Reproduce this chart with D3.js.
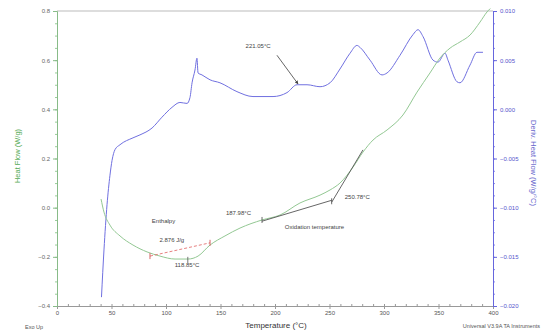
<!DOCTYPE html>
<html>
<head>
<meta charset="utf-8">
<script src="https://cdn.jsdelivr.net/npm/d3@7"></script>
<style>
  body { margin: 0; background: #fff; }
  svg { font-family: "Liberation Sans", Arial, sans-serif; }
</style>
</head>
<body>
<div id="chart"></div>
<script>
// Heat flow curve (left axis)
var flowTemp = [40.4, 43.1, 48.6, 57.8, 69.7, 82.6, 94.5, 108.3, 120.2, 129.4, 140.4, 154.1, 167.9, 188.1, 204.6, 222.9, 241.3, 250.5, 259.6, 271.6, 280.7, 289.9, 302.8, 317.4, 330.3, 342.2, 351.4, 360.6, 369.7, 378.9, 388.1, 394.5, 397.5];
var flowVal = [0.035, -0.018, -0.071, -0.115, -0.152, -0.180, -0.197, -0.209, -0.209, -0.197, -0.152, -0.115, -0.083, -0.050, -0.030, 0.019, 0.051, 0.072, 0.100, 0.165, 0.226, 0.275, 0.316, 0.377, 0.470, 0.548, 0.609, 0.649, 0.674, 0.702, 0.755, 0.796, 0.81];

// Derivative heat flow (right axis)
var derivTemp = [40.8, 43.1, 45.9, 48.6, 50.5, 53.2, 57.8, 69.7, 76.1, 87.2, 96.3, 105.5, 112.8, 119.3, 122.0, 123.9, 126.6, 128.4, 129.4, 133.0, 140.4, 149.5, 165.1, 179.8, 198.2, 211.0, 220.2, 229.4, 241.3, 250.5, 259.6, 268.8, 275.2, 278.0, 287.2, 298.2, 302.8, 314.7, 326.6, 331.2, 335.8, 345.0, 349.5, 356.0, 358.7, 367.0, 369.7, 378.9, 385.3, 390.8];
var derivVal = [-0.0191, -0.0143, -0.0097, -0.0067, -0.0052, -0.0041, -0.0036, -0.0029, -0.0026, -0.0019, -0.0008, 0.0002, 0.0007, 0.0006, 0.0012, 0.0027, 0.0040, 0.0052, 0.0037, 0.0035, 0.0030, 0.0027, 0.0018, 0.0013, 0.0013, 0.0017, 0.0025, 0.0025, 0.0023, 0.0027, 0.0041, 0.0057, 0.0065, 0.0063, 0.0050, 0.0035, 0.0037, 0.0055, 0.0076, 0.0081, 0.0074, 0.0050, 0.0048, 0.0057, 0.0050, 0.0028, 0.0027, 0.0045, 0.0058, 0.0058];

var xTicks = [0, 50, 100, 150, 200, 250, 300, 350, 400];
var leftTicks = [-0.4, -0.2, 0.0, 0.2, 0.4, 0.6, 0.8];
var rightTicks = [-0.020, -0.015, -0.010, -0.005, 0.000, 0.005, 0.010];

var annoLabels = ["Enthalpy", "2.876 J/g", "118.85°C", "187.98°C", "Oxidation temperature", "250.78°C", "221.05°C"];

const chartWidth = 541;
const chartHeight = 336;
const marginTop = 11;
const marginBottom = 30;
const marginLeft = 57;
const marginRight = 48;

var green = "#93c893";
var blue = "#7070e0";

var xScale = d3.scaleLinear().domain([0, 400]).range([marginLeft, chartWidth - marginRight]);
var yLeft = d3.scaleLinear().domain([-0.4, 0.8]).range([chartHeight - marginBottom, marginTop]);
var yRight = d3.scaleLinear().domain([-0.020, 0.010]).range([chartHeight - marginBottom, marginTop]);

var svg = d3.select("#chart").append("svg")
  .attr("width", chartWidth)
  .attr("height", chartHeight);

// top border
svg.append("line")
  .attr("x1", marginLeft).attr("x2", chartWidth - marginRight)
  .attr("y1", marginTop).attr("y2", marginTop)
  .style("stroke", "#bbb");

// minor ticks
function minor(axisGen, scale, vals) { return axisGen(scale).tickValues(vals).tickSize(2).tickFormat(""); }

var xMinor = d3.range(0, 401, 10);
svg.append("g")
  .attr("transform", "translate(0," + (chartHeight - marginBottom) + ")")
  .call(d3.axisTop(xScale).tickValues(xMinor).tickSize(2).tickFormat(""))
  .call(g => g.select(".domain").remove())
  .selectAll("line").style("stroke", "#999");

var xAxis = svg.append("g")
  .attr("transform", "translate(0," + (chartHeight - marginBottom) + ")")
  .call(d3.axisBottom(xScale).tickValues(xTicks).tickSize(3).tickPadding(2));
xAxis.select(".domain").style("stroke", "#999");
xAxis.selectAll("line").style("stroke", "#999");
xAxis.selectAll("text").style("font-size", "6px").style("fill", "#555");

var leftMinor = d3.range(-0.4, 0.801, 0.05);
svg.append("g")
  .attr("transform", "translate(" + marginLeft + ",0)")
  .call(minor(d3.axisLeft, yLeft, leftMinor))
  .call(g => g.select(".domain").remove())
  .selectAll("line").style("stroke", "#9c9");

var leftAxis = svg.append("g")
  .attr("transform", "translate(" + marginLeft + ",0)")
  .call(d3.axisLeft(yLeft).tickValues(leftTicks).tickSize(4).tickPadding(3).tickFormat(d3.format(".1f")));
leftAxis.select(".domain").style("stroke", "#8b8");
leftAxis.selectAll("line").style("stroke", "#8b8");
leftAxis.selectAll("text").style("font-size", "6px").style("fill", "#666");

var rightMinor = d3.range(-0.020, 0.0101, 0.00125);
svg.append("g")
  .attr("transform", "translate(" + (chartWidth - marginRight) + ",0)")
  .call(minor(d3.axisRight, yRight, rightMinor))
  .call(g => g.select(".domain").remove())
  .selectAll("line").style("stroke", "#88e");

var rightAxis = svg.append("g")
  .attr("transform", "translate(" + (chartWidth - marginRight) + ",0)")
  .call(d3.axisRight(yRight).tickValues(rightTicks).tickSize(4).tickPadding(3).tickFormat(d3.format(".3f")));
rightAxis.select(".domain").style("stroke", "#66d");
rightAxis.selectAll("line").style("stroke", "#66d");
rightAxis.selectAll("text").style("font-size", "6px").style("fill", "#55c");

// curves
var flowData = flowTemp.map(function(t, i) { return [t, flowVal[i]]; });
var derivData = derivTemp.map(function(t, i) { return [t, derivVal[i]]; });

svg.append("path")
  .datum(derivData)
  .attr("d", d3.line().x(d => xScale(d[0])).y(d => yRight(d[1])).curve(d3.curveMonotoneX))
  .style("fill", "none").style("stroke", blue).style("stroke-width", 1);

svg.append("path")
  .datum(flowData)
  .attr("d", d3.line().x(d => xScale(d[0])).y(d => yLeft(d[1])).curve(d3.curveMonotoneX))
  .style("fill", "none").style("stroke", green).style("stroke-width", 1);

// enthalpy baseline
svg.append("line")
  .attr("x1", xScale(85.3)).attr("y1", yLeft(-0.197))
  .attr("x2", xScale(140.4)).attr("y2", yLeft(-0.143))
  .style("stroke", "#e06060").style("stroke-dasharray", "3,2").style("stroke-width", 0.8);
[[85.3, -0.197], [140.4, -0.143]].forEach(function(p) {
  svg.append("line")
    .attr("x1", xScale(p[0])).attr("x2", xScale(p[0]))
    .attr("y1", yLeft(p[1]) - 3).attr("y2", yLeft(p[1]) + 3)
    .style("stroke", "#c44").style("stroke-width", 0.8);
});
svg.append("line")
  .attr("x1", xScale(120)).attr("x2", xScale(120))
  .attr("y1", yLeft(-0.2)).attr("y2", yLeft(-0.225))
  .style("stroke", "#555").style("stroke-width", 0.8);

// oxidation onset tangents
svg.append("line")
  .attr("x1", xScale(188.1)).attr("y1", yLeft(-0.055))
  .attr("x2", xScale(252)).attr("y2", yLeft(0.030))
  .style("stroke", "#555").style("stroke-width", 0.9);
svg.append("line")
  .attr("x1", xScale(252)).attr("y1", yLeft(0.022))
  .attr("x2", xScale(280.7)).attr("y2", yLeft(0.235))
  .style("stroke", "#555").style("stroke-width", 0.9);
[[188.1, -0.05], [252, 0.026]].forEach(function(p) {
  svg.append("line")
    .attr("x1", xScale(p[0])).attr("x2", xScale(p[0]))
    .attr("y1", yLeft(p[1]) - 3).attr("y2", yLeft(p[1]) + 3)
    .style("stroke", "#444").style("stroke-width", 0.8);
});

// derivative peak arrow
svg.append("defs").append("marker")
  .attr("id", "arr").attr("viewBox", "0 0 6 6").attr("refX", 5).attr("refY", 3)
  .attr("markerWidth", 4).attr("markerHeight", 4).attr("orient", "auto")
  .append("path").attr("d", "M0,0L6,3L0,6Z").style("fill", "#444");
svg.append("line")
  .attr("x1", xScale(201.8)).attr("y1", yRight(0.0055))
  .attr("x2", xScale(221)).attr("y2", yRight(0.0026))
  .attr("marker-end", "url(#arr)")
  .style("stroke", "#555").style("stroke-width", 0.9);

// labels
var labelPos = [[87, -0.062], [94, -0.14], [108, -0.243], [155, -0.03], [209, -0.087], [264, 0.035], [173, 0.0062]];
annoLabels.forEach(function(t, i) {
  var p = labelPos[i];
  var y = i == 6 ? yRight(p[1]) : yLeft(p[1]);
  svg.append("text")
    .attr("x", xScale(p[0])).attr("y", y)
    .style("font-size", "6px").style("fill", "#444")
    .text(t);
});

// titles
svg.append("text")
  .attr("transform", "translate(20," + 156 + ") rotate(-90)")
  .style("text-anchor", "middle").style("font-size", "7.5px").style("fill", "#5a5")
  .text("Heat Flow (W/g)");

svg.append("text")
  .attr("transform", "translate(531," + 163 + ") rotate(90)")
  .style("text-anchor", "middle").style("font-size", "7.5px").style("fill", "#66c")
  .text("Deriv. Heat Flow (W/g/°C)");

svg.append("text")
  .attr("x", 276).attr("y", 328)
  .style("text-anchor", "middle").style("font-size", "8px").style("fill", "#333")
  .text("Temperature (°C)");

svg.append("text")
  .attr("x", 25).attr("y", 329)
  .style("font-size", "5.5px").style("fill", "#555")
  .text("Exo Up");

svg.append("text")
  .attr("x", 540).attr("y", 328)
  .style("text-anchor", "end").style("font-size", "5.5px").style("fill", "#555")
  .text("Universal V3.9A TA Instruments");
</script>
</body>
</html>
